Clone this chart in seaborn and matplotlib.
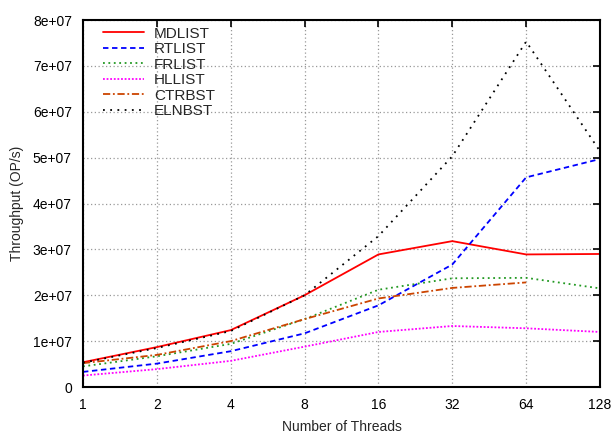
import numpy as np
import pandas as pd
import matplotlib
matplotlib.use('Agg')
import matplotlib.pyplot as plt
import seaborn as sns

threads = [1, 2, 4, 8, 16, 32, 64, 128]

mdlist = [5.4e6, 8.7e6, 1.24e7, 2.0e7, 2.89e7, 3.18e7, 2.89e7, 2.9e7]
rtlist = [3.3e6, 5.1e6, 7.8e6, 1.17e7, 1.78e7, 2.67e7, 4.57e7, 4.97e7]
frlist = [4.5e6, 6.7e6, 9.4e6, 1.48e7, 2.12e7, 2.37e7, 2.38e7, 2.15e7]
hllist = [2.5e6, 3.9e6, 5.7e6, 8.8e6, 1.2e7, 1.33e7, 1.28e7, 1.2e7]
ctrbst = [5.2e6, 7.0e6, 1.0e7, 1.48e7, 1.93e7, 2.16e7, 2.28e7]
elnbst = [5.3e6, 8.5e6, 1.22e7, 2.0e7, 3.29e7, 5.03e7, 7.53e7, 5.14e7]

series = [
    ('MDLIST', mdlist, '#ff0000', '-'),
    ('RTLIST', rtlist, '#0000ff', (0, (3, 2))),
    ('FRLIST', frlist, '#229922', (0, (1, 2))),
    ('HLLIST', hllist, '#ff00ff', (0, (1, 1))),
    ('CTRBST', ctrbst, '#cc4400', (0, (4, 1.5, 1, 1.5))),
    ('ELNBST', elnbst, '#000000', (0, (1, 3))),
]

sns.set_style('white')
plt.rcParams['font.family'] = ['Liberation Sans', 'DejaVu Sans']

fig = plt.figure(figsize=(6.13, 4.33), dpi=100)
ax = fig.add_axes([0.1354, 0.1062, 0.8434, 0.8476])

for name, vals, color, ls in series:
    df = pd.DataFrame({'threads': threads[:len(vals)], 'tput': vals})
    sns.lineplot(data=df, x='threads', y='tput', ax=ax, color=color,
                 linestyle=ls, linewidth=1.3, label=name)

ax.set_xscale('log', base=2)
ax.set_xlim(1, 128)
ax.set_ylim(0, 8e7)
ax.set_xticks(threads)
ax.set_xticklabels([str(t) for t in threads])
yt = np.arange(0, 9) * 1e7
ax.set_yticks(yt)
ax.set_yticklabels(['0'] + ['%de+07' % i for i in range(1, 9)])
ax.minorticks_off()
ax.tick_params(direction='in', length=5, width=1.2, top=True, right=True,
               labelsize=10, colors='black')
ax.tick_params(axis='y', pad=8)
ax.tick_params(axis='x', pad=8)
ax.grid(True, color='#999999', linestyle=(0, (1, 2)), linewidth=0.9)
for s in ax.spines.values():
    s.set_linewidth(1.5)
    s.set_color('black')

ax.set_xlabel('Number of Threads', fontsize=10, labelpad=6)
ax.set_ylabel('Throughput (OP/s)', fontsize=10, labelpad=6)

leg = ax.legend(loc='upper left', frameon=False, fontsize=11, handlelength=2.7,
                handletextpad=0.65, labelspacing=0.1, borderaxespad=0,
                borderpad=0, bbox_to_anchor=(0.0387, 0.982))

fig.savefig('out.png', dpi=100)
